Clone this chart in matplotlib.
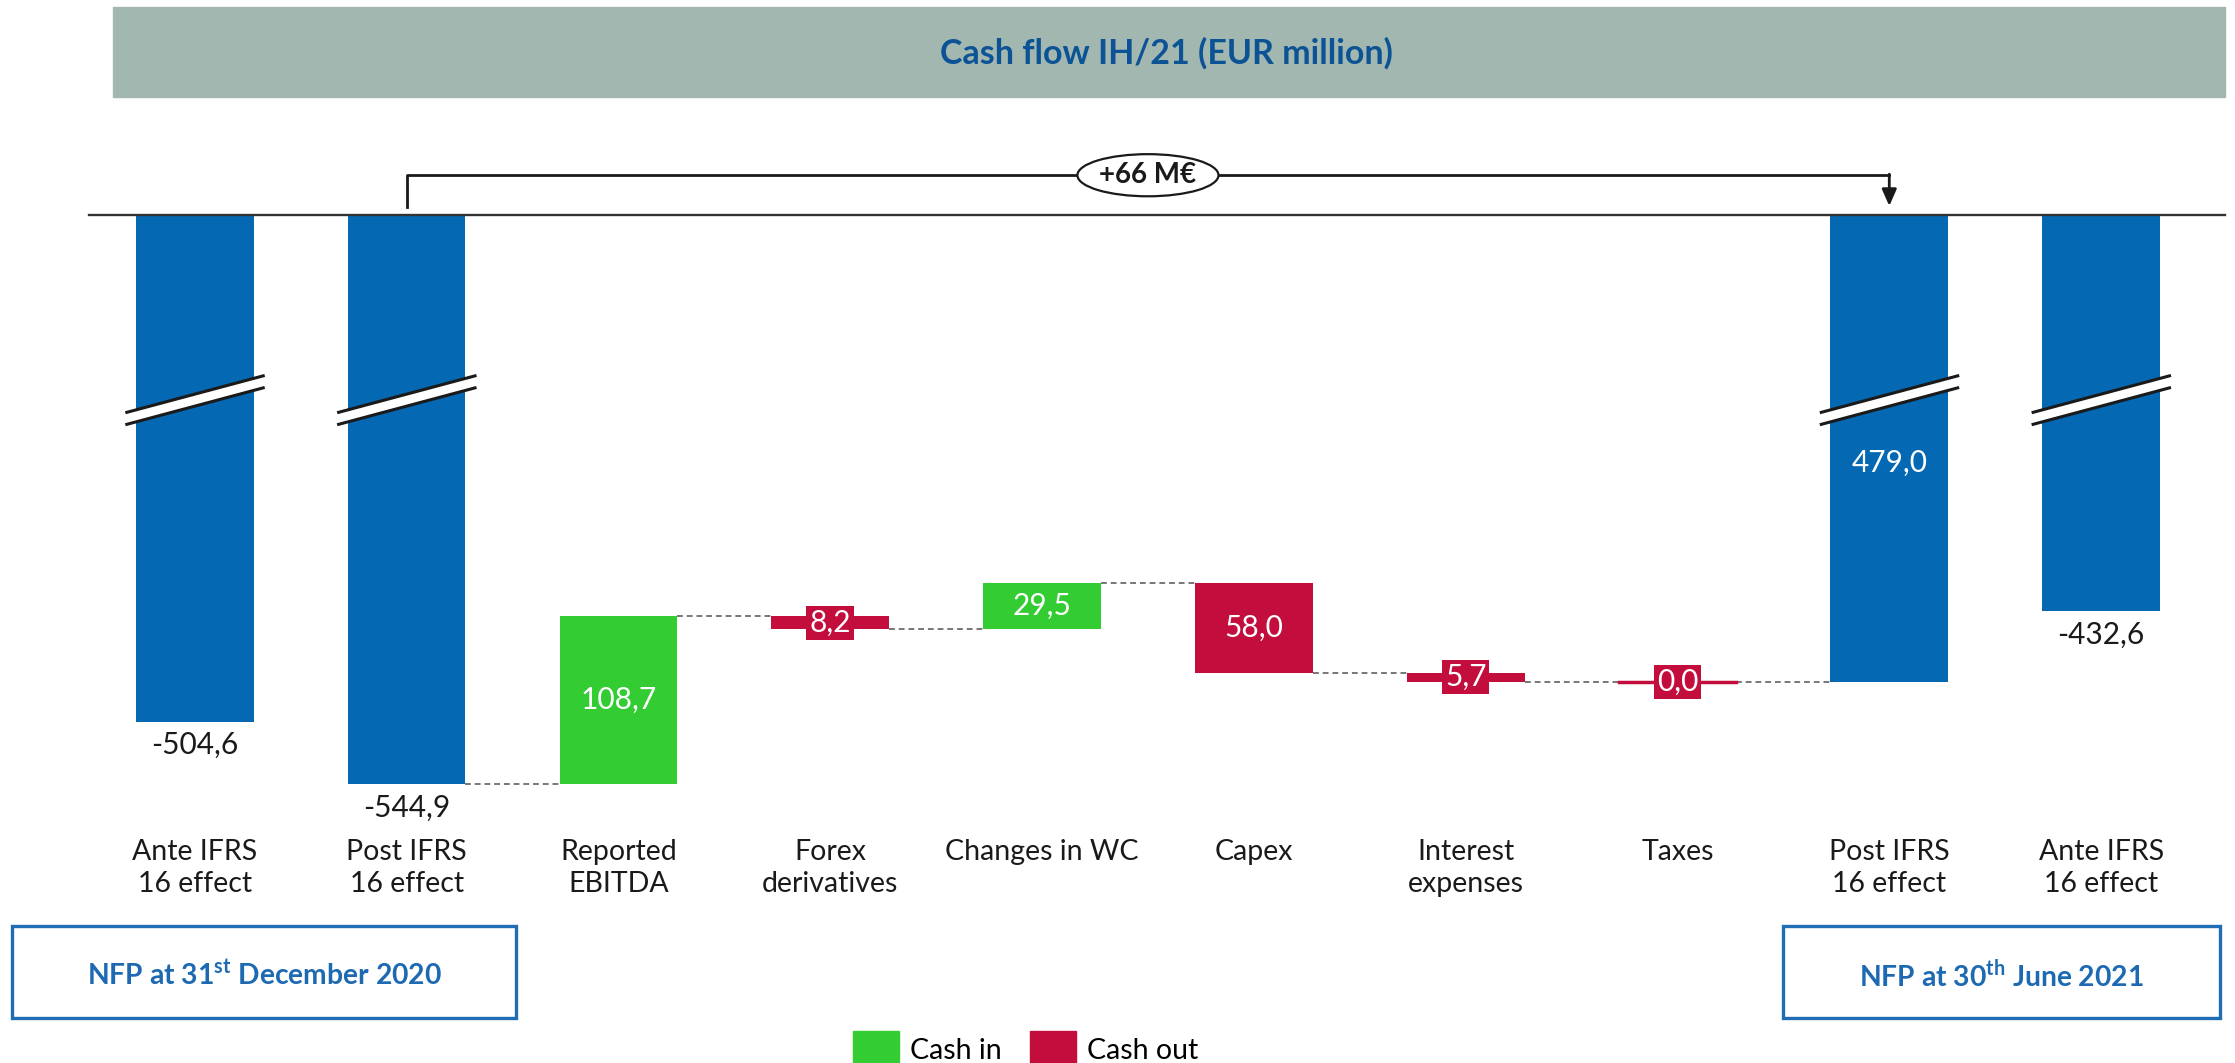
import matplotlib
matplotlib.use("Agg")
import matplotlib.pyplot as plt
import matplotlib.transforms as mtransforms
from matplotlib.patches import Ellipse, Rectangle, Patch, Polygon

plt.rcParams['font.family'] = ['Lato', 'DejaVu Sans']
plt.rcParams['mathtext.fontset'] = 'custom'
plt.rcParams['mathtext.rm'] = 'Lato'
plt.rcParams['mathtext.bf'] = 'Lato:bold'

# data
categories = ["Ante IFRS\n16 effect", "Post IFRS\n16 effect", "Reported\nEBITDA",
              "Forex\nderivatives", "Changes in WC", "Capex", "Interest\nexpenses",
              "Taxes", "Post IFRS\n16 effect", "Ante IFRS\n16 effect"]
kinds = ["total", "total", "in", "out", "in", "out", "out", "out", "total", "total"]
values = [-504.6, -544.9, 108.7, 8.2, 29.5, 58.0, 5.7, 0.0, -479.0, -432.6]
value_labels = ["-504,6", "-544,9", "108,7", "8,2", "29,5", "58,0", "5,7", "0,0",
                "479,0", "-432,6"]
delta_label = "+66 M€"
box_left = "NFP at 31$^{\\mathbf{st}}$ December 2020"
box_right = "NFP at 30$^{\\mathbf{th}}$ June 2021"

BLUE = "#0568B3"
GREEN = "#33CC33"
RED = "#C30D3D"
colors = {"total": BLUE, "in": GREEN, "out": RED}

# waterfall geometry
bottoms, heights, levels = [], [], []
level = 0.0
for kind, v in zip(kinds, values):
    if kind == "total":
        bottoms.append(v)
        heights.append(-v)      # bar runs up to zero, clipped by the axis top
        level = v
    elif kind == "in":
        bottoms.append(level)
        heights.append(v)
        level += v
    else:
        level -= v
        bottoms.append(level)
        heights.append(v)
    levels.append(level)

W, H = 2235, 1063
fig = plt.figure(figsize=(W / 100, H / 100), dpi=100)

# title band
fig.patches.append(Rectangle((113 / W, 1 - 97 / H), (2225 - 113) / W, 90 / H,
                             transform=fig.transFigure, color="#A3B7B1", zorder=0))
fig.text(1166 / W, 1 - 53 / H, "Cash flow IH/21 (EUR million)", ha="center", va="center",
         fontsize=24.5, fontweight="bold", color="#0B5394")

ax = fig.add_axes([88.9 / W, 1 - 800 / H, (2225 - 88.9) / W, 585 / H])
x = list(range(len(categories)))
bw = 0.556
bar_colors = [colors[k] for k in kinds]
ax.bar(x, heights, bottom=bottoms, width=bw, color=bar_colors, zorder=2)

ax.set_xlim(-0.5, 9.585)
ax.set_ylim(-555.5, -175.6)
for s in ["left", "right", "bottom"]:
    ax.spines[s].set_visible(False)
ax.spines["top"].set_color("#333333")
ax.spines["top"].set_linewidth(1.7)
ax.spines["top"].set_zorder(5)
ax.set_yticks([])
ax.set_xticks(x)
ax.set_xticklabels(categories, fontsize=20.5, color="#1a1a1a", linespacing=1.28)
ax.tick_params(axis="x", length=0, pad=28)

# zero-height bar (taxes) as a red line
for i, (k, h) in enumerate(zip(kinds, heights)):
    if k != "total" and h == 0:
        ax.plot([i - bw / 2, i + bw / 2], [bottoms[i]] * 2, color=RED, lw=2.5, zorder=2)

# dashed connectors
for i in range(1, 8):
    ax.plot([i + bw / 2, i + 1 - bw / 2], [levels[i], levels[i]], color="#777777",
            lw=1.4, ls=(0, (3, 2)), zorder=1)

# axis break marks on the totals
break_y, rise, gap = -295.8, 11.85, 3.9
for i, k in enumerate(kinds):
    if k != "total":
        continue
    x0, x1 = i - 0.321, i + 0.323
    ax.add_patch(Polygon([(x0, break_y - rise + gap), (x1, break_y + rise + gap),
                          (x1, break_y + rise - gap), (x0, break_y - rise - gap)],
                         closed=True, facecolor="white", edgecolor="none", zorder=3,
                         clip_on=False))
    for sgn in (1, -1):
        ax.plot([x0, x1], [break_y - rise + sgn * gap, break_y + rise + sgn * gap],
                color="#1a1a1a", lw=2.2, zorder=4, clip_on=False)

# value labels
fs_val = 21.5
for i, (k, lab) in enumerate(zip(kinds, value_labels)):
    if k == "total":
        if i == 8:
            ax.text(i, break_y - 41, lab, ha="center", va="center", fontsize=fs_val,
                    color="white", zorder=6)
        else:
            ax.annotate(lab, (i, values[i]), xytext=(0, -17), textcoords="offset points",
                        ha="center", va="center", fontsize=fs_val, color="#1a1a1a")
    else:
        yc = bottoms[i] + heights[i] / 2
        if heights[i] < 15:
            ax.text(i, yc, lab, ha="center", va="center", fontsize=fs_val, color="white",
                    zorder=6, bbox=dict(boxstyle="square,pad=0.1", fc=RED, ec="none"))
        else:
            ax.text(i, yc, lab, ha="center", va="center", fontsize=fs_val, color="white",
                    zorder=6)

# +66 M€ bracket
tr = mtransforms.blended_transform_factory(ax.transData, ax.transAxes)
yb = 1.068
ax.plot([1, 1, 8], [1.0137, yb, yb], color="#1a1a1a", lw=2.0, transform=tr,
        clip_on=False, zorder=5)
ax.annotate("", xy=(8, 1.0154), xycoords=tr, xytext=(8, yb + 0.0017), textcoords=tr,
            arrowprops=dict(arrowstyle="-|>,head_length=0.5,head_width=0.22",
                            color="#1a1a1a", lw=2.0, mutation_scale=20,
                            shrinkA=0, shrinkB=0), annotation_clip=False)
mid = (1 + 8) / 2
ax.add_patch(Ellipse((mid, yb), 0.666, 0.072, transform=tr, facecolor="white",
                     edgecolor="#1a1a1a", lw=1.6, zorder=6, clip_on=False))
ax.text(mid, yb, delta_label, transform=tr, ha="center", va="center", fontsize=20,
        fontweight="bold", color="#1a1a1a", zorder=7)

# NFP boxes
for (x0, x1), txt in [((12, 516), box_left), ((1783, 2220), box_right)]:
    fig.patches.append(Rectangle((x0 / W, 1 - 1018 / H), (x1 - x0) / W, 92 / H,
                                 transform=fig.transFigure, facecolor="white",
                                 edgecolor="#1F6DB5", lw=2.4))
    fig.text((x0 + x1) / 2 / W, 1 - 975 / H, txt, ha="center", va="center",
             fontsize=20.3, fontweight="bold", color="#1D6AB2")

# legend
handles = [Patch(color=GREEN, label="Cash in"), Patch(color=RED, label="Cash out")]
fig.legend(handles=handles, ncol=2, loc="upper left",
           bbox_to_anchor=(853 / W, 1 - 1031 / H), frameon=False, fontsize=20.5,
           handlelength=1.6, handleheight=1.6, handletextpad=0.4, columnspacing=1.0,
           borderpad=0, borderaxespad=0)

fig.savefig("out.png", dpi=100)
